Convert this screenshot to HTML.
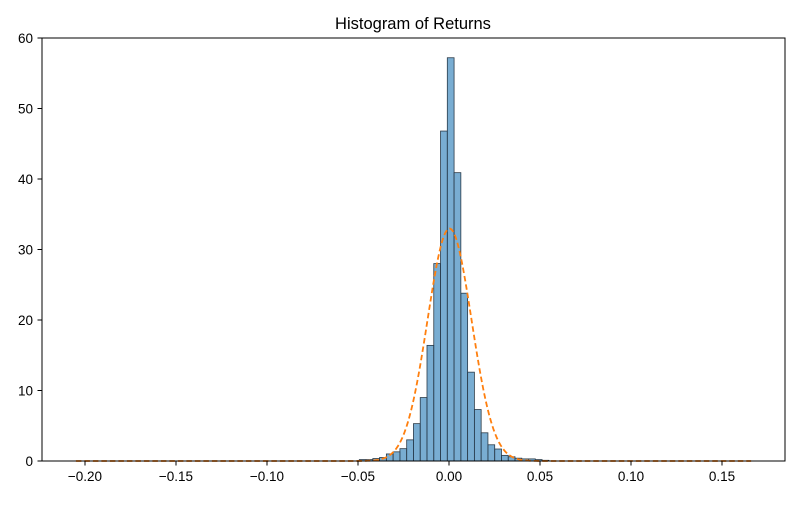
<!DOCTYPE html>
<html><head><meta charset="utf-8"><style>
body{margin:0;background:#fff;}
svg text{font-family:"Liberation Sans","DejaVu Sans",sans-serif;}
</style></head><body>
<svg id="chart" width="800" height="500" xmlns="http://www.w3.org/2000/svg">
<rect width="800" height="500" fill="#fff"/>
<text x="413" y="29" font-size="16.5" text-anchor="middle">Histogram of Returns</text>
<g id="bars"></g>
<path id="curve" fill="none" stroke="#ff7f0e" stroke-width="1.8" stroke-dasharray="5.5,3"/>
<rect x="42" y="38" width="743" height="423" fill="none" stroke="#000" stroke-width="1"/>
<g id="xticks"></g>
<g id="yticks"></g>
</svg>
<script>
const binIndex=[-13,-12,-11,-10,-9,-8,-7,-6,-5,-4,-3,-2,-1,0,1,2,3,4,5,6,7,8,9,10,11,12,13,14];
const binHeights=[0.2,0.2,0.35,0.5,1.0,1.3,1.75,3.0,5.3,9.0,16.4,28.0,46.8,57.2,40.9,23.8,12.6,7.3,4.0,2.3,1.7,0.8,0.6,0.4,0.3,0.3,0.2,0.1];
const binStart=-0.00093, binWidth=0.00372;
const fitMean=0.0003, fitStd=0.0121, curveMin=-0.205, curveMax=0.166;
const xTicks=[-0.20,-0.15,-0.10,-0.05,0.00,0.05,0.10,0.15];
const xTickLabels=["\u22120.20","\u22120.15","\u22120.10","\u22120.05","0.00","0.05","0.10","0.15"];
const yTicks=[0,10,20,30,40,50,60];
const NS="http://www.w3.org/2000/svg";
const X=v=>449+(v)*1820;
const Y=v=>461-v*(423/60);
const bars=document.getElementById('bars');
binIndex.forEach((k,i)=>{
  const r=document.createElementNS(NS,'rect');
  const x0=X(binStart+k*binWidth),x1=X(binStart+(k+1)*binWidth);
  r.setAttribute('x',x0);r.setAttribute('width',x1-x0);
  r.setAttribute('y',Y(binHeights[i]));r.setAttribute('height',Y(0)-Y(binHeights[i]));
  r.setAttribute('fill','rgba(31,119,180,0.6)');r.setAttribute('stroke','#2a3a48');r.setAttribute('stroke-width','0.8');
  
  
  bars.appendChild(r);
});
let d='';
for(let i=0;i<=600;i++){
  const v=curveMin+(curveMax-curveMin)*i/600;
  const p=Math.exp(-0.5*((v-fitMean)/fitStd)**2)/(fitStd*Math.sqrt(2*Math.PI));
  d+=(i?'L':'M')+X(v).toFixed(2)+','+Y(p).toFixed(2);
}
document.getElementById('curve').setAttribute('d',d);
const xg=document.getElementById('xticks');
xTicks.forEach((v,i)=>{
  const l=document.createElementNS(NS,'line');
  l.setAttribute('x1',X(v));l.setAttribute('x2',X(v));l.setAttribute('y1',461);l.setAttribute('y2',465.5);l.setAttribute('stroke','#000');
  
  
  xg.appendChild(l);
  const t=document.createElementNS(NS,'text');
  t.setAttribute('x',X(v));t.setAttribute('y',481);t.setAttribute('font-size','13.5');t.setAttribute('text-anchor','middle');
  t.textContent=xTickLabels[i];
  
  
  xg.appendChild(t);
});
const yg=document.getElementById('yticks');
yTicks.forEach(v=>{
  const l=document.createElementNS(NS,'line');
  l.setAttribute('x1',37.5);l.setAttribute('x2',42);l.setAttribute('y1',Y(v));l.setAttribute('y2',Y(v));l.setAttribute('stroke','#000');
  
  
  yg.appendChild(l);
  const t=document.createElementNS(NS,'text');
  t.setAttribute('x',33);t.setAttribute('y',Y(v)+5);t.setAttribute('font-size','13.5');t.setAttribute('text-anchor','end');
  t.textContent=String(v);
  
  
  yg.appendChild(t);
});
</script>
</body></html>
